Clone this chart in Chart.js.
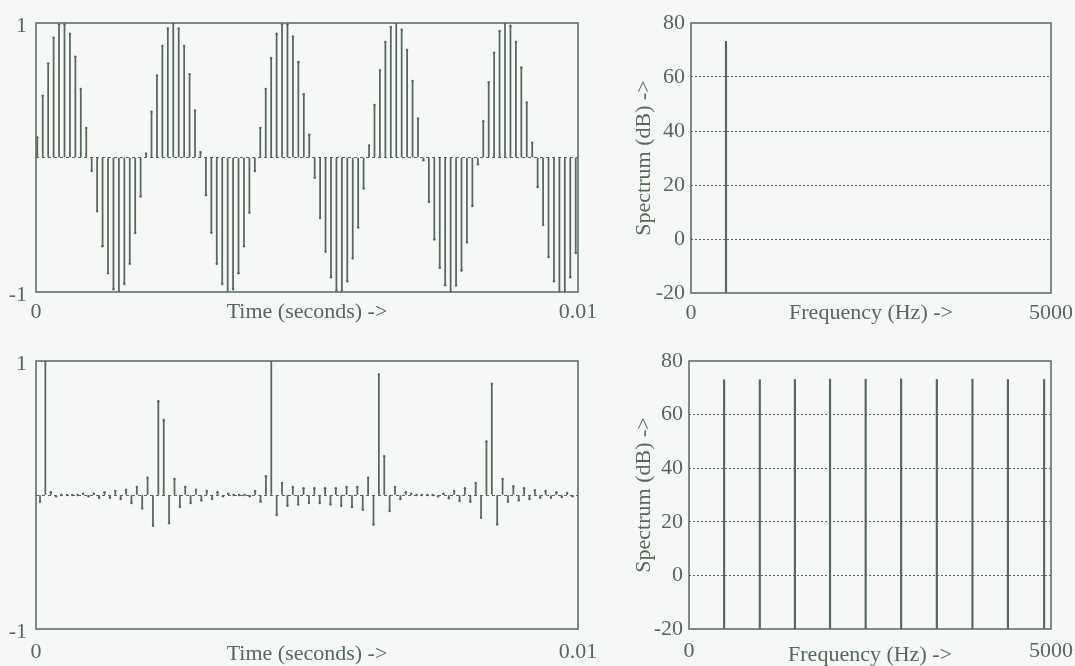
<!DOCTYPE html>
<html><head><meta charset="utf-8">
<script src="https://cdn.jsdelivr.net/npm/chart.js@4.4.0/dist/chart.umd.min.js"></script>
<style>
html,body{margin:0;padding:0;background:#f5f8f6;}
#wrap{position:relative;width:1075px;height:666px;overflow:hidden;background:#f5f8f6;}
.box{position:absolute;}
canvas{display:block;}
</style></head><body>
<div id="wrap">
  <div class="box" style="left:0;top:0;width:620px;height:333px"><canvas id="c1" width="620" height="333"></canvas></div>
  <div class="box" style="left:0;top:333px;width:620px;height:333px"><canvas id="c2" width="620" height="333"></canvas></div>
  <div class="box" style="left:620px;top:0;width:455px;height:333px"><canvas id="c3" width="455" height="333"></canvas></div>
  <div class="box" style="left:620px;top:333px;width:455px;height:333px"><canvas id="c4" width="455" height="333"></canvas></div>
</div>
<script>
// ---------------- data ----------------
const sampleRate = 10000; // samples per second (100 samples in 0.01 s)

const toneSamples = [
  0.15, 0.46, 0.70, 0.89, 0.99, 0.99, 0.92, 0.75, 0.51, 0.22,
 -0.10,-0.40,-0.66,-0.86,-0.98,-1.00,-0.94,-0.79,-0.56,-0.29,
  0.03, 0.34, 0.61, 0.83, 0.96, 1.00, 0.96, 0.83, 0.62, 0.35,
  0.04,-0.28,-0.56,-0.79,-0.94,-1.00,-0.98,-0.86,-0.66,-0.41,
 -0.10, 0.22, 0.51, 0.74, 0.92, 0.99, 0.99, 0.90, 0.71, 0.47,
  0.17,-0.15,-0.45,-0.70,-0.89,-0.99,-0.99,-0.92,-0.75,-0.52,
 -0.23, 0.09, 0.39, 0.65, 0.86, 0.97, 1.00, 0.95, 0.80, 0.57,
  0.29,-0.02,-0.33,-0.61,-0.82,-0.95,-1.00,-0.95,-0.84,-0.63,
 -0.36,-0.05, 0.27, 0.56, 0.78, 0.94, 1.00, 0.98, 0.86, 0.67,
  0.41, 0.11,-0.22,-0.50,-0.74,-0.92,-1.00,-1.00,-0.89,-0.71
];

const pulseSamples = [
 -0.05, 1.00, 0.02,-0.01, 0.00, 0.00, 0.00, 0.00, 0.01,-0.01,
  0.01,-0.02, 0.02,-0.02, 0.03,-0.03, 0.04,-0.06, 0.06,-0.10,
  0.13,-0.23, 0.70, 0.56,-0.21, 0.12,-0.09, 0.06,-0.06, 0.04,
 -0.04, 0.03,-0.03, 0.02,-0.01, 0.01, 0.00, 0.00, 0.00,-0.01,
  0.03,-0.05, 0.14, 1.00,-0.15, 0.09,-0.08, 0.06,-0.07, 0.05,
 -0.06, 0.05,-0.06, 0.05,-0.07, 0.05,-0.08, 0.06,-0.09, 0.06,
 -0.11, 0.13,-0.22, 0.90, 0.29,-0.12, 0.06,-0.03, 0.02, 0.01,
  0.00, 0.00, 0.00, 0.00,-0.01, 0.01,-0.025,0.03,-0.045,0.05,
 -0.05, 0.09,-0.17, 0.40, 0.83,-0.22, 0.12,-0.05, 0.065,-0.04,
  0.05,-0.03, 0.035,-0.02, 0.03,-0.02, 0.02,-0.015,0.015,-0.01
];

const toneSpectrumFreqs  = [486];
const toneSpectrumLevels = [73.2];

const pulseSpectrumFreqs  = [485, 978, 1463, 1948, 2440, 2930, 3423, 3915, 4405, 4905];
const pulseSpectrumLevels = [73.0, 73.0, 73.1, 73.2, 73.2, 73.3, 73.1, 73.2, 73.1, 73.1];

const timeTickLabels = ['0', '0.01'];
const freqTickLabels = ['0', '5000'];
const ampTickValues  = [-1, 0, 1];
const ampTickLabels  = ['-1', '', '1'];
const dbTickValues   = [-20, 0, 20, 40, 60, 80];
const dbTickLabels   = ['-20', '0', '20', '40', '60', '80'];

// ---------------- styling ----------------
const INK = '#56685a';
const FONT = "'Liberation Serif', 'Times New Roman', serif";
Chart.defaults.font.family = FONT;
Chart.defaults.font.size = 22;
Chart.defaults.color = INK;
Chart.defaults.animation = false;

const framePlugin = {
  id: 'frame',
  afterDatasetsDraw(chart) {
    const {ctx, chartArea: {left, top, right, bottom}} = chart;
    ctx.save();
    ctx.strokeStyle = INK;
    ctx.lineWidth = 1.5;
    ctx.strokeRect(left, top, right - left, bottom - top);
    ctx.restore();
  }
};

function stemChart(id, samples, xMin, xMax, padTop, xHeight, tickPad, titlePad) {
  const times = samples.map((_, n) => n / sampleRate);
  new Chart(document.getElementById(id), {
    type: 'bar',
    data: {
      datasets: [
        {
          type: 'bar',
          data: samples.map((v, n) => ({x: times[n], y: [0, v]})),
          backgroundColor: INK,
          borderWidth: 0,
          barThickness: 1.1
        },
        {
          type: 'scatter',
          data: samples.map((v, n) => ({x: times[n], y: v})),
          backgroundColor: INK,
          borderWidth: 0,
          pointRadius: 1.2
        }
      ]
    },
    options: {
      responsive: false,
      layout: {padding: {left: 0, top: padTop, right: 42, bottom: 0}},
      plugins: {legend: {display: false}, tooltip: {enabled: false}},
      scales: {
        x: {
          type: 'linear', min: xMin, max: xMax, offset: false,
          grid: {display: false, drawTicks: false, offset: false},
          border: {display: false},
          afterBuildTicks: s => { s.ticks = [{value: xMin}, {value: xMax}]; },
          afterFit: s => { s.height = xHeight; s.paddingLeft = 0; s.paddingRight = 0; },
          ticks: {padding: tickPad, maxRotation: 0, autoSkip: false,
                  callback: (v, i) => timeTickLabels[i]},
          title: {display: true, text: 'Time (seconds) ->', font: {lineHeight: 1},
                  padding: {top: 0, bottom: titlePad}}
        },
        y: {
          type: 'linear', min: -1, max: 1,
          grid: {drawTicks: false, lineWidth: 1,
                 color: c => c.tick && c.tick.value === 0 ? INK : 'rgba(0,0,0,0)'},
          border: {display: false, dash: [3, 3]},
          afterBuildTicks: s => { s.ticks = ampTickValues.map(v => ({value: v})); },
          afterFit: s => { s.width = 36; s.paddingTop = 0; s.paddingBottom = 0; },
          ticks: {padding: 9, labelOffset: 3, autoSkip: false, callback: (v, i) => ampTickLabels[i]}
        }
      }
    },
    plugins: [framePlugin]
  });
}

function spectrumChart(id, freqs, levels, yWidth, padTop, xHeight, tickPad, titlePad) {
  new Chart(document.getElementById(id), {
    type: 'bar',
    data: {
      datasets: [{
        data: freqs.map((f, i) => ({x: f, y: [-20, levels[i]]})),
        backgroundColor: INK,
        borderWidth: 0,
        barThickness: 1.5
      }]
    },
    options: {
      responsive: false,
      layout: {padding: {left: 0, top: padTop, right: 24, bottom: 0}},
      plugins: {legend: {display: false}, tooltip: {enabled: false}},
      scales: {
        x: {
          type: 'linear', min: 0, max: 5000, offset: false,
          grid: {display: false, drawTicks: false, offset: false},
          border: {display: false},
          afterBuildTicks: s => { s.ticks = [{value: 0}, {value: 5000}]; },
          afterFit: s => { s.height = xHeight; s.paddingLeft = 0; s.paddingRight = 0; },
          ticks: {padding: tickPad, maxRotation: 0, autoSkip: false,
                  callback: (v, i) => freqTickLabels[i]},
          title: {display: true, text: 'Frequency (Hz) ->', font: {lineHeight: 1},
                  padding: {top: 0, bottom: titlePad}}
        },
        y: {
          type: 'linear', min: -20, max: 80,
          grid: {drawTicks: false, lineWidth: 1,
                 color: c => (c.tick && c.tick.value > -20 && c.tick.value < 80) ? INK : 'rgba(0,0,0,0)'},
          border: {display: false, dash: [2, 2]},
          afterBuildTicks: s => { s.ticks = dbTickValues.map(v => ({value: v})); },
          afterFit: s => { s.width = yWidth; s.paddingTop = 0; s.paddingBottom = 0; },
          ticks: {padding: 6, autoSkip: false, callback: (v, i) => dbTickLabels[i]},
          title: {display: true, text: 'Spectrum (dB) ->', padding: {top: 11, bottom: 0}}
        }
      }
    },
    plugins: [framePlugin]
  });
}

stemChart('c1', toneSamples, -0.000024, 0.009942, 23, 41, 7, 10);
stemChart('c2', pulseSamples, -0.0000744, 0.010002, 28, 37, 10, 1);
spectrumChart('c3', toneSpectrumFreqs, toneSpectrumLevels, 71, 23, 40, 7, 9);
spectrumChart('c4', pulseSpectrumFreqs, pulseSpectrumLevels, 69, 28, 37, 9, 0);
</script>
</body></html>
